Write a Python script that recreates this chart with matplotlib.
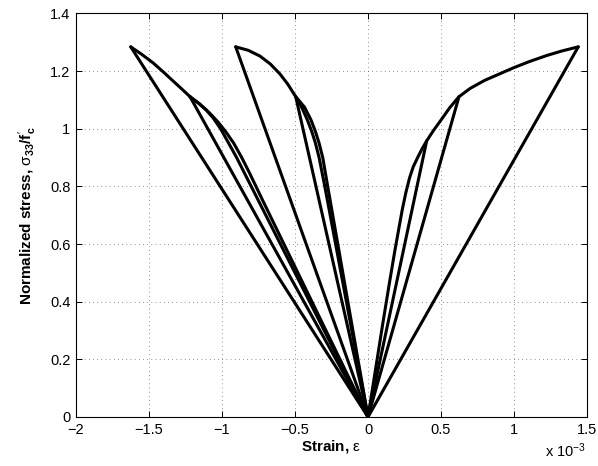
import matplotlib
matplotlib.use("Agg")
import matplotlib.pyplot as plt
from matplotlib.ticker import FuncFormatter, MultipleLocator

plt.rcParams["font.family"] = ["Liberation Sans", "DejaVu Sans"]
plt.rcParams["mathtext.fontset"] = "custom"
plt.rcParams["mathtext.rm"] = "Liberation Sans"
plt.rcParams["mathtext.it"] = "Liberation Sans:italic"
plt.rcParams["mathtext.bf"] = "Liberation Sans:bold"

# strain in units of 1e-3, stress normalized by f'c
# axial (positive) envelope
R_env_x = [0, 0.05, 0.1, 0.15, 0.185, 0.21, 0.235, 0.26, 0.285, 0.31, 0.34, 0.37, 0.402,
           0.45, 0.5, 0.56, 0.623, 0.7, 0.8, 0.9, 0.995, 1.1, 1.224, 1.33, 1.44]
R_env_y = [0, 0.16, 0.32, 0.475, 0.58, 0.65, 0.72, 0.78, 0.83, 0.868, 0.9, 0.93, 0.958,
           0.995, 1.03, 1.073, 1.111, 1.14, 1.168, 1.19, 1.211, 1.232, 1.254, 1.27, 1.284]
R_unload_x = [0.402, 0.623, 1.44]
R_unload_y = [0.958, 1.111, 1.284]

# lateral branch A
A_load_x = [0, -0.2, -0.4, -0.6, -0.75, -0.85, -0.9, -0.96, -1.01, -1.06, -1.11, -1.165, -1.219]
A_load_y = [0, 0.2, 0.4, 0.6, 0.75, 0.85, 0.9, 0.955, 1.0, 1.037, 1.066, 1.09, 1.111]
A_reload_x = [0, -0.192, -0.384, -0.576, -0.72, -0.815, -0.865, -0.92, -0.975, -1.03, -1.09, -1.155, -1.219]
A_reload_y = [0, 0.2, 0.4, 0.6, 0.75, 0.85, 0.9, 0.95, 0.99, 1.025, 1.057, 1.087, 1.111]
A_env_x = [-1.219, -1.28, -1.334, -1.4, -1.471, -1.55, -1.625]
A_env_y = [1.111, 1.14, 1.165, 1.196, 1.228, 1.258, 1.284]
A_unload_x = [-1.219, -1.625]
A_unload_y = [1.111, 1.284]

# lateral branch B
B_load_x = [0, -0.074, -0.148, -0.222, -0.296, -0.335, -0.36, -0.385, -0.415, -0.45, -0.495]
B_load_y = [0, 0.2, 0.4, 0.6, 0.8, 0.9, 0.95, 0.99, 1.03, 1.07, 1.111]
B_reload_x = [0, -0.069, -0.138, -0.207, -0.276, -0.31, -0.335, -0.36, -0.39, -0.435, -0.495]
B_reload_y = [0, 0.2, 0.4, 0.6, 0.8, 0.9, 0.95, 0.99, 1.03, 1.075, 1.111]
B_env_x = [-0.495, -0.55, -0.603, -0.67, -0.74, -0.82, -0.906]
B_env_y = [1.111, 1.155, 1.19, 1.225, 1.252, 1.272, 1.284]
B_unload_x = [-0.495, -0.906]
B_unload_y = [1.111, 1.284]

fig = plt.figure(figsize=(5.98, 4.66), dpi=100)
ax = fig.add_axes([0.1271, 0.1052, 0.8545, 0.866])

kw = dict(color="black", lw=2.2, solid_joinstyle="round", solid_capstyle="round")
for xs, ys in [(R_env_x, R_env_y), (A_load_x, A_load_y), (A_reload_x, A_reload_y),
               (A_env_x, A_env_y), (B_load_x, B_load_y), (B_reload_x, B_reload_y),
               (B_env_x, B_env_y)]:
    ax.plot(xs, ys, **kw)
for ux, uy in [(R_unload_x, R_unload_y), (A_unload_x, A_unload_y), (B_unload_x, B_unload_y)]:
    for x, y in zip(ux, uy):
        ax.plot([x, 0], [y, 0], **kw)

ax.set_xlim(-2, 1.5)
ax.set_ylim(0, 1.4)
ax.xaxis.set_major_locator(MultipleLocator(0.5))
ax.yaxis.set_major_locator(MultipleLocator(0.2))
fmt = FuncFormatter(lambda v, p: ("%g" % round(v, 3)).replace("-", "\u2212"))
ax.xaxis.set_major_formatter(fmt)
ax.yaxis.set_major_formatter(fmt)
ax.tick_params(direction="in", length=4, width=0.7, top=True, right=True,
               labelsize=10.5, pad=4)
for s in ax.spines.values():
    s.set_linewidth(0.8)
ax.grid(True, color="0.3", lw=0.6, linestyle=(0, (0.8, 4.2)))

ax.set_xlabel(r"Strain, $\mathrm{\varepsilon}$", fontsize=11, fontweight="bold")
ax.set_ylabel(r"Normalized stress, $\mathrm{\sigma}_{\mathbf{33}}\mathbf{/f}^{\prime}_{\mathbf{c}}$",
              fontsize=11, fontweight="bold")
ax.xaxis.set_label_coords(0.5, -0.052)
ax.yaxis.set_label_coords(-0.072, 0.5)
fig.text(0.912, 0.02, r"x 10$^{-3}$", fontsize=10.5)

fig.savefig("out.png", dpi=100)
